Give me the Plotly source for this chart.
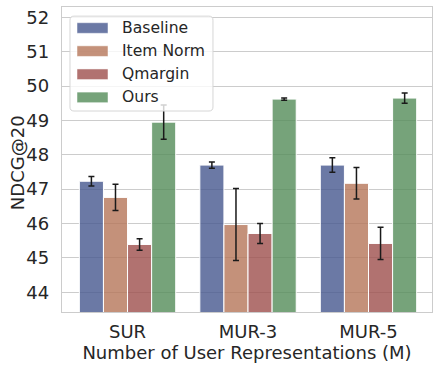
import plotly.graph_objects as go

groups = ["SUR", "MUR-3", "MUR-5"]
methods = ["Baseline", "Item Norm", "Qmargin", "Ours"]
ndcg = {
    "Baseline": [47.23, 47.70, 47.70],
    "Item Norm": [46.76, 45.97, 47.17],
    "Qmargin": [45.39, 45.71, 45.42],
    "Ours": [48.95, 49.62, 49.65],
}
ndcg_err = {
    "Baseline": [0.14, 0.09, 0.21],
    "Item Norm": [0.38, 1.05, 0.46],
    "Qmargin": [0.17, 0.29, 0.47],
    "Ours": [0.50, 0.03, 0.15],
}
y_ticks = [44, 45, 46, 47, 48, 49, 50, 51, 52]

colors = {
    "Baseline": "rgba(70, 88, 143, 0.8)",
    "Item Norm": "rgba(181, 117, 89, 0.8)",
    "Qmargin": "rgba(157, 79, 76, 0.8)",
    "Ours": "rgba(84, 140, 89, 0.8)",
}

FONT = "DejaVu Sans"
TXT = "#262626"
GRID = "#cccccc"
FS = 18

fig = go.Figure()
for m in methods:
    fig.add_trace(go.Bar(
        x=groups, y=ndcg[m], name=m,
        marker=dict(color=colors[m], line=dict(color="white", width=1)),
        error_y=dict(type="data", array=ndcg_err[m], color="#1a1a1a",
                     thickness=1.5, width=3),
        showlegend=False,
    ))

# legend drawn by hand so the swatches look like matplotlib's
shapes = []
x0, x1, y0, y1 = 0.0216, 0.408, 0.659, 0.970
rx, ry = 4 / 370, 4 / 304.7
path = (f"M{x0+rx},{y0} L{x1-rx},{y0} Q{x1},{y0} {x1},{y0+ry} "
        f"L{x1},{y1-ry} Q{x1},{y1} {x1-rx},{y1} L{x0+rx},{y1} "
        f"Q{x0},{y1} {x0},{y1-ry} L{x0},{y0+ry} Q{x0},{y0} {x0+rx},{y0} Z")
shapes.append(dict(type="path", xref="paper", yref="paper", path=path,
                   fillcolor="rgba(255,255,255,0.8)",
                   line=dict(color="#d6d6d6", width=1), layer="above"))
annotations = []
for i, m in enumerate(methods):
    cy = 28 + i * 23.1
    py = (311.7 - cy) / 304.7
    h = 5.3 / 304.7
    shapes.append(dict(type="rect", xref="paper", yref="paper",
                       x0=15 / 370, x1=46 / 370, y0=py - h, y1=py + h,
                       fillcolor=colors[m], line=dict(color="white", width=0.5),
                       layer="above"))
    annotations.append(dict(xref="paper", yref="paper", x=58 / 370, y=py,
                            text=m, showarrow=False, xanchor="left",
                            yanchor="middle",
                            font=dict(family=FONT, size=15.6, color=TXT)))

# y-axis title placed as a rotated annotation for exact positioning
annotations.append(dict(xref="paper", yref="paper", x=-45 / 370, y=0.488,
                        text="NDCG@20", textangle=-90, showarrow=False,
                        xanchor="center", yanchor="middle",
                        font=dict(family=FONT, size=FS, color=TXT)))

fig.update_layout(
    width=440, height=368,
    margin=dict(l=62, r=8, t=7, b=56),
    paper_bgcolor="white", plot_bgcolor="white",
    barmode="group", bargap=0.2, bargroupgap=0,
    font=dict(family=FONT, size=FS, color=TXT),
    shapes=shapes, annotations=annotations,
    xaxis=dict(
        range=[-0.544, 2.527], showgrid=False, automargin=False,
        showline=True, mirror=True, linecolor=GRID, linewidth=1.25,
        ticks="", ticklabelstandoff=3,
        title=dict(text="Number of User Representations (M)", standoff=3,
                   font=dict(size=FS)),
    ),
    yaxis=dict(
        range=[43.425, 52.3], tickvals=y_ticks, automargin=False,
        showgrid=True, gridcolor=GRID, gridwidth=1, zeroline=False,
        showline=True, mirror=True, linecolor=GRID, linewidth=1.25,
        ticks="", ticklabelstandoff=8,
    ),
)

# the page body has an 8px default margin; drop it so the figure fills the window
fig.write_html("out.html", config={"displayModeBar": False},
               post_script="document.body.style.margin = '0';")
